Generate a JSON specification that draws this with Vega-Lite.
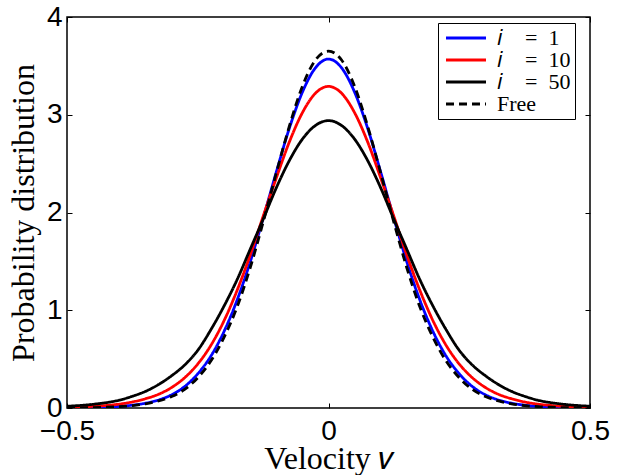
{
  "$schema": "https://vega.github.io/schema/vega-lite/v6.json",
  "autosize": "none",
  "width": 523,
  "height": 391,
  "padding": {"left": 67, "top": 17, "right": 48, "bottom": 67},
  "background": "white",
  "config": {
    "view": {"stroke": "black", "strokeWidth": 1.5},
    "axis": {"grid": false, "domain": false, "tickColor": "black", "tickSize": -5, "tickWidth": 1, "labelColor": "black", "titleColor": "black"},
    "legend": {"rowPadding": 0}
  },
  "data": {"values": [
    {"v": -0.5, "i = 1": 0.002, "i = 10": 0.007, "i = 50": 0.018, "Free": 0.001},
    {"v": -0.475, "i = 1": 0.003, "i = 10": 0.011, "i = 50": 0.026, "Free": 0.002},
    {"v": -0.45, "i = 1": 0.006, "i = 10": 0.017, "i = 50": 0.038, "Free": 0.004},
    {"v": -0.425, "i = 1": 0.010, "i = 10": 0.026, "i = 50": 0.055, "Free": 0.008},
    {"v": -0.4, "i = 1": 0.017, "i = 10": 0.040, "i = 50": 0.08, "Free": 0.014},
    {"v": -0.375, "i = 1": 0.029, "i = 10": 0.062, "i = 50": 0.12, "Free": 0.025},
    {"v": -0.35, "i = 1": 0.049, "i = 10": 0.095, "i = 50": 0.17, "Free": 0.043},
    {"v": -0.325, "i = 1": 0.082, "i = 10": 0.14, "i = 50": 0.24, "Free": 0.072},
    {"v": -0.3, "i = 1": 0.135, "i = 10": 0.21, "i = 50": 0.33, "Free": 0.118},
    {"v": -0.275, "i = 1": 0.22, "i = 10": 0.31, "i = 50": 0.44, "Free": 0.19},
    {"v": -0.25, "i = 1": 0.35, "i = 10": 0.45, "i = 50": 0.59, "Free": 0.31},
    {"v": -0.225, "i = 1": 0.53, "i = 10": 0.64, "i = 50": 0.80, "Free": 0.48},
    {"v": -0.2, "i = 1": 0.78, "i = 10": 0.89, "i = 50": 1.04, "Free": 0.72},
    {"v": -0.175, "i = 1": 1.10, "i = 10": 1.20, "i = 50": 1.31, "Free": 1.03},
    {"v": -0.15, "i = 1": 1.49, "i = 10": 1.56, "i = 50": 1.62, "Free": 1.43},
    {"v": -0.125, "i = 1": 1.94, "i = 10": 1.96, "i = 50": 1.93, "Free": 1.90},
    {"v": -0.1, "i = 1": 2.41, "i = 10": 2.35, "i = 50": 2.25, "Free": 2.40},
    {"v": -0.075, "i = 1": 2.86, "i = 10": 2.72, "i = 50": 2.53, "Free": 2.88},
    {"v": -0.05, "i = 1": 3.23, "i = 10": 3.02, "i = 50": 2.75, "Free": 3.29},
    {"v": -0.025, "i = 1": 3.48, "i = 10": 3.22, "i = 50": 2.89, "Free": 3.56},
    {"v": 0, "i = 1": 3.57, "i = 10": 3.29, "i = 50": 2.94, "Free": 3.65},
    {"v": 0.025, "i = 1": 3.48, "i = 10": 3.22, "i = 50": 2.89, "Free": 3.56},
    {"v": 0.05, "i = 1": 3.23, "i = 10": 3.02, "i = 50": 2.75, "Free": 3.29},
    {"v": 0.075, "i = 1": 2.86, "i = 10": 2.72, "i = 50": 2.53, "Free": 2.88},
    {"v": 0.1, "i = 1": 2.41, "i = 10": 2.35, "i = 50": 2.25, "Free": 2.40},
    {"v": 0.125, "i = 1": 1.94, "i = 10": 1.96, "i = 50": 1.93, "Free": 1.90},
    {"v": 0.15, "i = 1": 1.49, "i = 10": 1.56, "i = 50": 1.62, "Free": 1.43},
    {"v": 0.175, "i = 1": 1.10, "i = 10": 1.20, "i = 50": 1.31, "Free": 1.03},
    {"v": 0.2, "i = 1": 0.78, "i = 10": 0.89, "i = 50": 1.04, "Free": 0.72},
    {"v": 0.225, "i = 1": 0.53, "i = 10": 0.64, "i = 50": 0.80, "Free": 0.48},
    {"v": 0.25, "i = 1": 0.35, "i = 10": 0.45, "i = 50": 0.59, "Free": 0.31},
    {"v": 0.275, "i = 1": 0.22, "i = 10": 0.31, "i = 50": 0.44, "Free": 0.19},
    {"v": 0.3, "i = 1": 0.135, "i = 10": 0.21, "i = 50": 0.33, "Free": 0.118},
    {"v": 0.325, "i = 1": 0.082, "i = 10": 0.14, "i = 50": 0.24, "Free": 0.072},
    {"v": 0.35, "i = 1": 0.049, "i = 10": 0.095, "i = 50": 0.17, "Free": 0.043},
    {"v": 0.375, "i = 1": 0.029, "i = 10": 0.062, "i = 50": 0.12, "Free": 0.025},
    {"v": 0.4, "i = 1": 0.017, "i = 10": 0.040, "i = 50": 0.08, "Free": 0.014},
    {"v": 0.425, "i = 1": 0.010, "i = 10": 0.026, "i = 50": 0.055, "Free": 0.008},
    {"v": 0.45, "i = 1": 0.006, "i = 10": 0.017, "i = 50": 0.038, "Free": 0.004},
    {"v": 0.475, "i = 1": 0.003, "i = 10": 0.011, "i = 50": 0.026, "Free": 0.002},
    {"v": 0.5, "i = 1": 0.002, "i = 10": 0.007, "i = 50": 0.018, "Free": 0.001}
  ]},
  "transform": [{"fold": ["i = 1", "i = 10", "i = 50", "Free"], "as": ["series", "p"]}],
  "layer": [
    {
      "mark": {"type": "line", "strokeWidth": 2.8, "interpolate": "monotone", "clip": true},
      "encoding": {
        "x": {"field": "v", "type": "quantitative", "scale": {"domain": [-0.5, 0.5], "nice": false, "zero": false},
              "axis": {"values": [-0.5, 0, 0.5], "format": ".1~f", "labelFont": "Liberation Sans", "labelFontSize": 28, "labelPadding": 14, "labelFlush": false,
                       "title": "Velocity 𝑣", "titleFont": "Liberation Serif", "titleFontSize": 32, "titleFontWeight": "normal", "titlePadding": -2}},
        "y": {"field": "p", "type": "quantitative", "scale": {"domain": [0, 4], "nice": false},
              "axis": {"values": [0, 1, 2, 3, 4], "labelFont": "Liberation Sans", "labelFontSize": 28, "labelPadding": 10, "labelFlush": false,
                       "title": "Probability distribution", "titleFont": "Liberation Serif", "titleFontSize": 32, "titleFontWeight": "normal", "titlePadding": 6}},
        "color": {"field": "series", "type": "nominal",
                  "scale": {"domain": ["i = 1", "i = 10", "i = 50", "Free"], "range": ["#0000ff", "#ff0000", "#000000", "#000000"]},
                  "legend": {"title": null, "orient": "none", "legendX": 371, "legendY": 6, "fillColor": "white", "strokeColor": "black", "padding": 4, "symbolOffset": 13,
                             "symbolType": "M-5,0H5", "symbolSize": 64, "symbolStrokeWidth": 3, "labelFont": "Liberation Serif", "labelFontSize": 22, "labelOffset": 20, "rowPadding": 0, "labelExpr": "replace(datum.label, 'i = ', '𝑖\u2003=\u2002')"}},
        "strokeDash": {"field": "series", "type": "nominal",
                  "scale": {"domain": ["i = 1", "i = 10", "i = 50", "Free"], "range": [[1, 0], [1, 0], [1, 0], [8, 5]]},
                  "legend": {"title": null, "orient": "none", "legendX": 371, "legendY": 6, "fillColor": "white", "strokeColor": "black", "padding": 4, "symbolOffset": 13,
                             "symbolType": "M-5,0H5", "symbolSize": 64, "symbolStrokeWidth": 3, "labelFont": "Liberation Serif", "labelFontSize": 22, "labelOffset": 20, "rowPadding": 0, "labelExpr": "replace(datum.label, 'i = ', '𝑖\u2003=\u2002')"}}
      }
    },
    {
      "mark": {"type": "line", "opacity": 0},
      "encoding": {
        "x": {"field": "v", "type": "quantitative", "axis": {"orient": "top", "values": [-0.5, 0, 0.5], "labels": false, "title": null}},
        "y": {"field": "p", "type": "quantitative", "axis": {"orient": "right", "values": [0, 1, 2, 3, 4], "labels": false, "title": null}},
        "detail": {"field": "series"}
      }
    }
  ],
  "resolve": {"axis": {"x": "independent", "y": "independent"}}
}
